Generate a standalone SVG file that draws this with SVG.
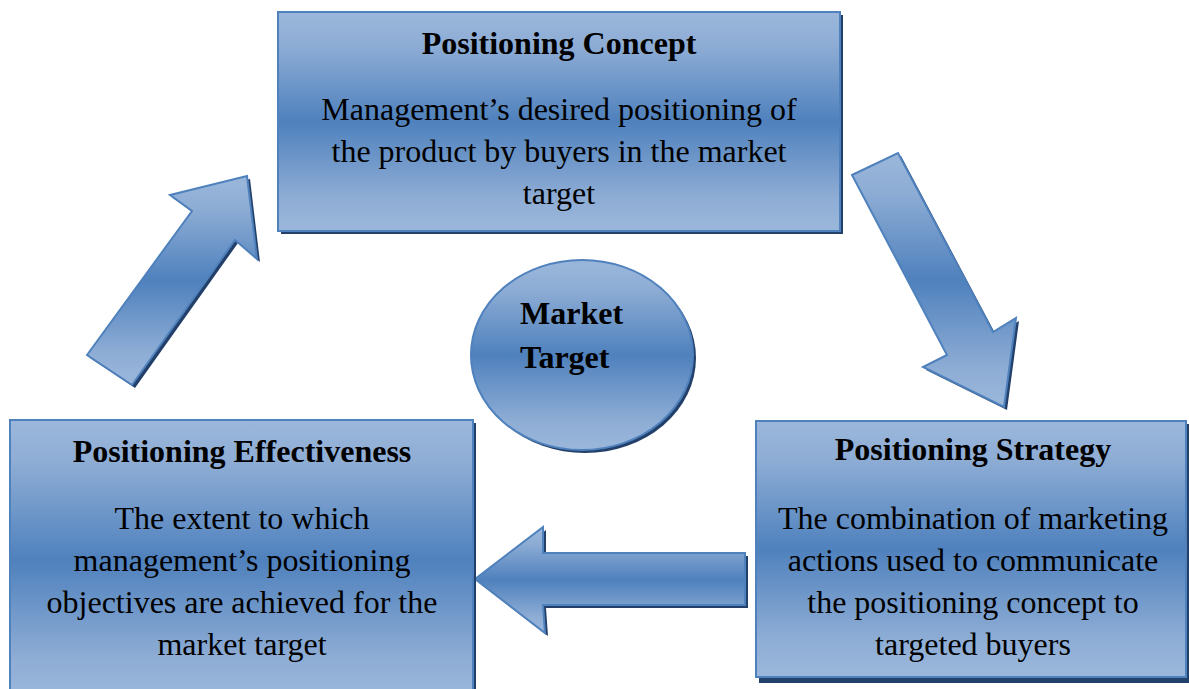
<svg xmlns="http://www.w3.org/2000/svg" width="1189" height="689" viewBox="0 0 1189 689">
  <defs>
    <!-- light-dark-light vertical shading used by every shape -->
    <linearGradient id="blueShade" x1="0" y1="0" x2="0" y2="1">
      <stop offset="0" stop-color="#9bb7db"/>
      <stop offset="0.15" stop-color="#8eadd5"/>
      <stop offset="0.5" stop-color="#4f81bd"/>
      <stop offset="0.85" stop-color="#8eadd5"/>
      <stop offset="1" stop-color="#9bb7db"/>
    </linearGradient>
  </defs>
  <style>
    .shape { fill: url(#blueShade); stroke: #4f81bd; stroke-width: 2; }
    .shadow { fill: #23406a; }
    .title { font-family: "Liberation Serif", "Times New Roman", serif; font-weight: bold; font-size: 32px; fill: #000; text-anchor: middle; }
    .body { font-family: "Liberation Serif", "Times New Roman", serif; font-size: 32px; fill: #000; text-anchor: middle; }
    .label { font-family: "Liberation Serif", "Times New Roman", serif; font-weight: bold; font-size: 32px; fill: #000; }
  </style>

  <rect width="1189" height="689" fill="#ffffff"/>

  <!-- cycle arrows -->
  <g id="connectors">
    <g id="arrow-effectiveness-to-concept">
      <polygon class="shadow" transform="translate(3,3)" points="87,355 192,211 170,195 247,176 257,259 235,240 132,385"/>
      <polygon class="shape" points="87,355 192,211 170,195 247,176 257,259 235,240 132,385"/>
    </g>
    <g id="arrow-concept-to-strategy">
      <polygon class="shadow" transform="translate(3,3)" points="852,175 898,153 993,332 1016,318 1004,407 923,367 947,355"/>
      <polygon class="shape" points="852,175 898,153 993,332 1016,318 1004,407 923,367 947,355"/>
    </g>
    <g id="arrow-strategy-to-effectiveness">
      <polygon class="shadow" transform="translate(3,3)" points="475,579 543,527 543,553 745,553 745,605 543,605 545,633"/>
      <polygon class="shape" points="475,579 543,527 543,553 745,553 745,605 543,605 545,633"/>
    </g>
  </g>

  <g id="positioning-concept">
    <rect class="shadow" x="281" y="15" width="562" height="219"/>
    <rect class="shape" x="278" y="12" width="562" height="219"/>
    <text class="title" x="559" y="54">Positioning Concept</text>
    <text class="body" x="559" y="120">Management’s desired positioning of</text>
    <text class="body" x="559" y="162">the product by buyers in the market</text>
    <text class="body" x="559" y="204">target</text>
  </g>

  <g id="market-target">
    <ellipse class="shadow" cx="585" cy="358" rx="111" ry="95"/>
    <ellipse class="shape" cx="582" cy="355" rx="111" ry="95"/>
    <text class="label" x="520" y="324">Market</text>
    <text class="label" x="520" y="368">Target</text>
  </g>

  <g id="positioning-effectiveness">
    <rect class="shadow" x="13" y="423" width="463" height="280"/>
    <rect class="shape" x="10" y="420" width="463" height="280"/>
    <text class="title" x="242" y="462">Positioning Effectiveness</text>
    <text class="body" x="242" y="529">The extent to which</text>
    <text class="body" x="242" y="571">management’s positioning</text>
    <text class="body" x="242" y="613">objectives are achieved for the</text>
    <text class="body" x="242" y="655">market target</text>
  </g>

  <g id="positioning-strategy">
    <rect class="shadow" x="759" y="424" width="432" height="259"/>
    <rect class="shape" x="756" y="421" width="430" height="256"/>
    <text class="title" x="973" y="460">Positioning Strategy</text>
    <text class="body" x="973" y="529">The combination of marketing</text>
    <text class="body" x="973" y="571">actions used to communicate</text>
    <text class="body" x="973" y="613">the positioning concept to</text>
    <text class="body" x="973" y="655">targeted buyers</text>
  </g>
</svg>
